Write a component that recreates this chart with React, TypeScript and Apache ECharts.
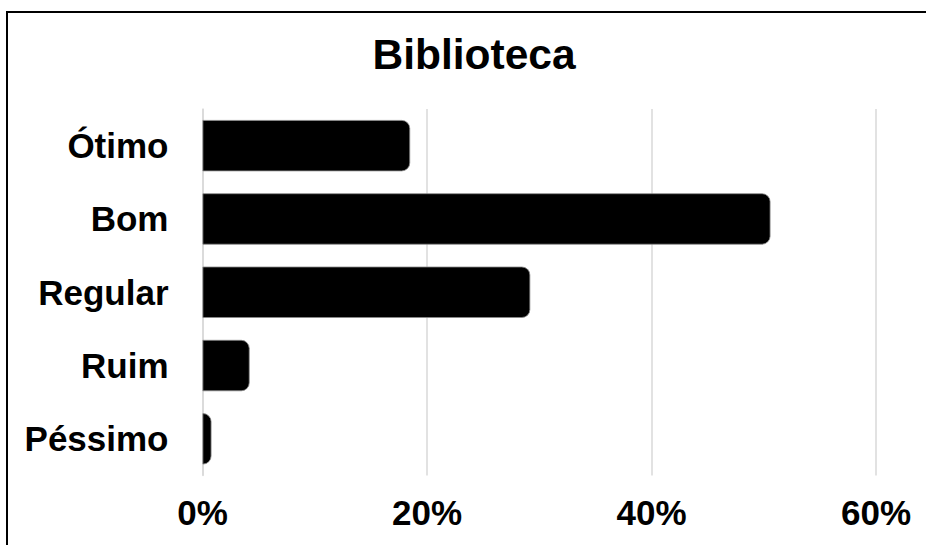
import React, { useEffect, useRef } from "react";
import * as echarts from "echarts";

const categories = ["Ótimo", "Bom", "Regular", "Ruim", "Péssimo"];
const values = [18.5, 50.6, 29.2, 4.2, 0.8];
const xTicks = { min: 0, max: 60, interval: 20 };
const titleText = "Biblioteca";

export default function App() {
  const ref = useRef<HTMLDivElement>(null);
  useEffect(() => {
    if (!ref.current) return;
    const chart = echarts.init(ref.current, null, { renderer: "svg" });
    const font = "Liberation Sans, Arial, sans-serif";
    chart.setOption({
      animation: false,
      backgroundColor: "#ffffff",
      title: {
        text: titleText,
        left: 474,
        textAlign: "center",
        top: 31,
        padding: 0,
        textStyle: {
          fontFamily: font,
          fontWeight: "bold",
          fontSize: 42.5,
          color: "#000",
          lineHeight: 46,
        },
      },
      grid: { left: 202.5, right: 50, top: 109, bottom: 69.5, containLabel: false },
      xAxis: {
        type: "value",
        min: xTicks.min,
        max: xTicks.max,
        interval: xTicks.interval,
        axisLine: { show: false },
        axisTick: { show: false },
        splitLine: { show: true, lineStyle: { color: "#d9d9d9", width: 1.5 } },
        axisLabel: {
          formatter: "{value}%",
          fontFamily: font,
          fontWeight: "bold",
          fontSize: 35,
          color: "#000",
          margin: 19,
        },
      },
      yAxis: {
        type: "category",
        data: categories,
        inverse: true,
        axisLine: { show: true, lineStyle: { color: "#d9d9d9", width: 1.5 } },
        axisTick: { show: false },
        axisLabel: {
          fontFamily: font,
          fontWeight: "bold",
          fontSize: 35,
          color: "#000",
          margin: 34,
        },
      },
      series: [
        {
          type: "bar",
          data: values,
          barCategoryGap: "30%",
          itemStyle: {
            color: "#000",
            borderRadius: [0, 8, 8, 0],
            borderColor: "#8a8a8a",
            borderWidth: 0.8,
          },
        },
      ],
      graphic: [
        {
          type: "rect",
          shape: { x: 7, y: 12, width: 1200, height: 1200 },
          style: { fill: "none", stroke: "#000", lineWidth: 2 },
          silent: true,
        },
      ],
    });
    return () => chart.dispose();
  }, []);
  return (
    <div
      ref={ref}
      style={{ position: "fixed", left: 0, top: 0, width: 926, height: 545 }}
    />
  );
}
